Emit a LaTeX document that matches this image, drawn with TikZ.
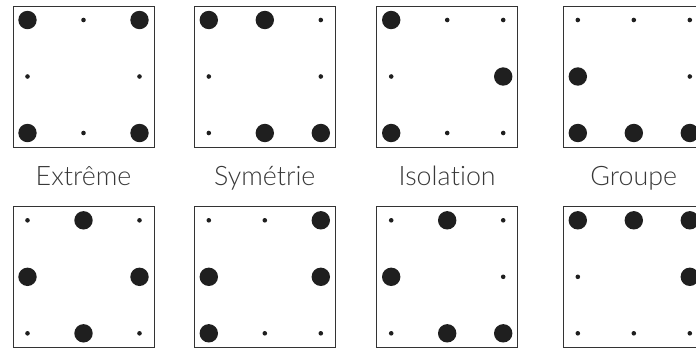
\documentclass[tikz,border=0pt]{standalone}
\usepackage{fontspec}
\newfontfamily\lab{Lato}[UprightFont=* Light, Ligatures=NoCommon]
\begin{document}
\begin{tikzpicture}[x=1pt,y=-1pt,
  panel/.style={draw=black!80, line width=0.9pt, minimum width=141pt, minimum height=141pt, inner sep=0pt, outer sep=0pt},
  bigdot/.style={circle, fill=black!88, minimum size=18.4pt, inner sep=0pt},
  smalldot/.style={circle, fill=black!88, minimum size=4.6pt, inner sep=0pt},
  lbl/.style={font=\lab\fontsize{26.8}{30}\selectfont, text=black!78, anchor=base}]
\useasboundingbox (0,0) rectangle (696,349);
\foreach \name/\cx/\cy/\pat in {
  a1/83.5/76.5/{bigdot,smalldot,bigdot,smalldot,smalldot,bigdot,smalldot,bigdot},
  a2/264.8/76.5/{bigdot,bigdot,smalldot,smalldot,smalldot,smalldot,bigdot,bigdot},
  a3/447.2/76.5/{bigdot,smalldot,smalldot,smalldot,bigdot,bigdot,smalldot,smalldot},
  a4/633.8/76.5/{smalldot,smalldot,smalldot,bigdot,smalldot,bigdot,bigdot,bigdot},
  b1/83.5/276.8/{smalldot,bigdot,smalldot,bigdot,bigdot,smalldot,bigdot,smalldot},
  b2/264.8/276.8/{smalldot,smalldot,bigdot,bigdot,bigdot,bigdot,smalldot,smalldot},
  b3/447.2/276.8/{smalldot,bigdot,smalldot,bigdot,smalldot,smalldot,bigdot,bigdot},
  b4/633.8/276.8/{bigdot,bigdot,bigdot,smalldot,bigdot,smalldot,smalldot,smalldot}} {
  \node[panel] (\name) at (\cx,\cy) {};
  \foreach \st [count=\i] in \pat {
    \pgfmathtruncatemacro\cell{\i<5 ? \i : \i+1}
    \pgfmathsetmacro\dx{(mod(\cell-1,3)-1)*56}
    \pgfmathsetmacro\dy{(int((\cell-1)/3)-1)*56.5}
    \node[\st] (\name-\i) at (\cx+\dx,\cy+\dy) {};
  }
}
\node[lbl] (l1) at (83.5,185.7) {Extrême};
\node[lbl] (l2) at (264.8,185.7) {Symétrie};
\node[lbl] (l3) at (447.2,185.7) {Isola\kern0.4pt tion};
\node[lbl] (l4) at (633.8,185.7) {Groupe};
\end{tikzpicture}
\end{document}
